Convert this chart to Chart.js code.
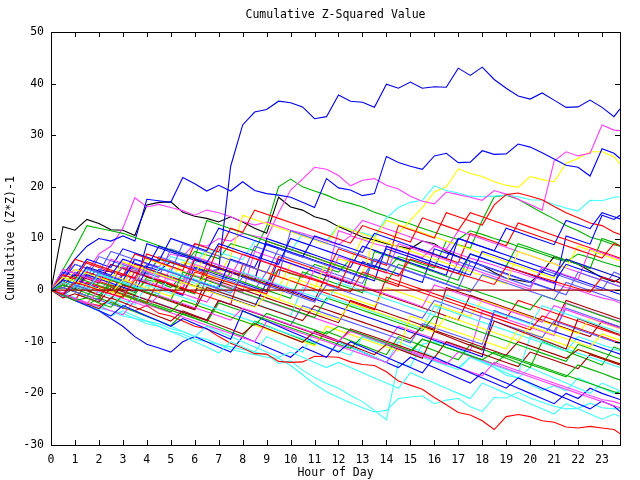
<!DOCTYPE html>
<html>
<head>
<meta charset="utf-8">
<title>Cumulative Z-Squared Value</title>
<script src="https://cdn.jsdelivr.net/npm/chart.js@4.4.1/dist/chart.umd.min.js"></script>
<style>
  html, body { margin: 0; padding: 0; background: #fff; }
  canvas { display: block; }
</style>
</head>
<body>
<canvas id="myChart" width="640" height="480"></canvas>
<script>
// hour of day (x), one reading every half hour
let hours = [0,0.5,1,1.5,2,2.5,3,3.5,4,4.5,5,5.5,6,6.5,7,7.5,8,8.5,9,9.5,10,10.5,11,11.5,12,12.5,13,13.5,14,14.5,15,15.5,16,16.5,17,17.5,18,18.5,19,19.5,20,20.5,21,21.5,22,22.5,23,23.5,23.75];
let yTicks = [-30,-20,-10,0,10,20,30,40,50];
let titleText = 'Cumulative Z-Squared Value';

// the lines that stand out
let topBlue = [0,1.5,3,2.5,4,3.5,2.8,5,4.5,3.8, 5.5,4.8,4.2,3.6,4,24,32,34.5,35,36.6, 36.3,35.5,33.2,33.6,37.8,36.6,36.4,35.4,39.9,39.1, 40.3,39.1,39.4,39.3,43.0,41.6,43.2,40.8,39.1,37.6, 37.0,38.2,36.8,35.4,35.5,36.8,35.4,33.6,35.1];
let secondBlue = [0,3,6,8.5,10,9.5,10.5,9.5,17.6,17.3, 17,21.8,20.6,19.2,20.3,19.2,21,19.3,18.7,18.4, 18,17,16,21.6,19.8,19.4,18.3,18.7,25.9,24.7, 24.0,23.4,26,26.5,24.7,24.8,27.0,26.3,26.4,28.3, 27.7,26.6,25.4,24.2,23.8,22.1,27.4,26.5,25.5];
let peakMagenta = [0,-0.5,1,0.5,2,1.5,3,2.5,5,4.5, 7,6.5,9,8.5,10,9.5,11,10.5,10,15, 19.4,21.5,23.8,23.4,22.2,20.2,21.3,21.6,20.3,19.6, 18.2,17.2,16.7,19,18.5,18,17.4,19.3,18.6,17.6, 16.6,15.5,25,26.8,26.0,26.5,32.0,31.0,30.9];
let earlyMagenta = [0,2.5,4,3.5,7,8.5,12,17.9,16.1,16.6, 16.0,15.4,14.5,15.5,15.0,14.2,13.3,12.6,13.2,12.4, 11.6,11,10.3,9.5,8.8,10.5,9.8,9,8.4,7.6, 7,6.3,8.5,7.8,7,6.2,5.5,4.8,4,3.4, 2.6,2,1.3,0.5,0,-0.8,-1.5,-2,-2.5];
let blackLine = [0,12.3,11.6,13.7,12.9,11.7,11.6,10.6,16.5,17, 17.1,15.1,14.3,13.9,13.2,14.2,13.2,12,11,18, 16.1,15.5,14.2,13.6,12.3,11.3,10.3,9.7,9,8.5, 8,9.5,9,7.5,6.5,5.6,4.7,3.4,2.3,1.9, 1.5,3.5,6.5,5.8,5,3.7,2.4,1.6,2.3];
let lowRed = [0,-1,-2,-2.5,-3,-2,-3.5,-4,-3,-4.5, -5,-6,-7,-7.5,-9,-10.3,-11.2,-12.3,-12.4,-13.8, -14,-13.9,-12.8,-12.9,-13,-13.9,-14.4,-14.6,-15.8,-17.6, -18.4,-19.2,-20.8,-22.2,-23.7,-24.2,-25.3,-27,-24.5,-24.1, -24.5,-25.3,-25.6,-26.5,-26.7,-26.4,-26.7,-27,-27.8];
let dipCyan = [0,-0.5,-1.5,-2.5,-3,-4,-4.5,-5.5,-6,-6.5, -7.5,-8,-9,-9.5,-10.5,-11,-11.5,-12,-12.5,-14.2, -13.7,-15.5,-16.9,-18.1,-19,-20.4,-21.6,-23.3,-25.1,-14, -14.8,-10.5,-10,-10.6,-11.4,-12.6,-13.6,-15,-16.5,-17, -18.2,-19.4,-18.5,-19.5,-17,-18,-19,-20,-19.5];
let lowCyan = [0,-1,-1.5,-2.5,-3.5,-4,-5,-5.5,-6.5,-7, -8,-8.5,-9.5,-10,-10.5,-11.5,-12,-12.5,-13,-13.2, -14.6,-16.4,-18.2,-19.7,-20.8,-21.8,-22.8,-23.6,-23.3,-21, -20.7,-20.5,-22,-21.3,-21,-22.6,-23.5,-20.8,-20.9,-19.8, -20.9,-21.7,-22.5,-23,-22.9,-21.9,-22.8,-23,-22.9];
let highCyan = [0,2,1.3,3.5,2.8,2.1,5,4.3,3.6,2.9, 6.5,5.8,5.1,8,7.3,6.6,5.9,9.5,8.8,8.1, 7.4,11,10.3,9.6,12.5,11.8,11.1,10.4,14,16, 17,17.4,20.2,19.3,18.8,18.2,18.1,18.2,18.4,18.1, 17.5,17.4,16.6,15.9,15.3,17.4,17.3,18,18.1];
let highYellow = [0,1.5,0.8,0.1,2.5,1.8,1.1,0.4,-0.3,3, 2.3,1.6,0.9,0.2,4,3.3,2.6,1.9,1.2,0.5, 5,4.3,3.6,2.9,6,5.5,10,9.5,9,11, 13.5,16,19,20,23.5,22.6,22,21,20.3,19.9, 22,21.4,21,24.6,25.5,26.8,26.8,25.8,24.5];
let highGreen = [0,1.5,0.8,3,2.3,1.6,4.5,3.8,3.1,6, 5.3,4.6,7.5,6.8,6.1,9,8.3,7.6,12.3,20, 21.5,20,19.2,18.4,17.4,16.8,16.1,15.1,14.3,13.5, 12.8,12,11.2,10.5,9.8,11.5,10.8,10,9.3,8.5, 7.8,7,6.2,5.5,7,6.3,5.5,4.8,4.5];
let lateGreen = [0,-1,0.5,0,-1,1,0.5,-0.5,2,1.5, 0.5,3,2,1.2,0.5,3.5,3,2.2,1.5,4, 3.2,2.5,5,4.2,3.5,6,5.2,4.5,3.8,6.5, 5.8,5,4.3,9.5,8.8,8.1,13.5,18.1,18.4,17.6, 16.3,15,13.8,12.5,11.5,10.3,9.6,8.8,8.5];

// the crowd of other days
let walk01 = [0,-0.8,1.5,0.8,0,-0.7,-1.4,2,1.3,0.6, -0.1,-0.8,3.5,2.8,2.1,1.4,0.7,0,-0.7,4, 3.3,2.6,1.9,1.2,0.5,5.5,4.8,4.1,3.4,2.7, 6,5.3,4.6,3.9,3.2,2.5,1.8,1.1,4.5,3.8, 3.1,2.4,1.7,1,0.3,-0.4,2.5,1.8,1.5];
let walk02 = [0,-1,-2,-1.5,-2.5,-3.3,-1,-1.8,-2.6,-3.4, -4.2,-2,-2.8,-3.6,-4.4,-5.2,-6,-6.8,-4.5,-5.3, -6.1,-6.9,-7.7,-8.5,-7,-7.8,-8.6,-9.4,-10.2,-11, -11.8,-9.5,-10.3,-11.1,-11.9,-12.7,-13.5,-12,-12.8,-13.6, -14.4,-15.2,-16,-16.8,-14.5,-15.3,-16.1,-17,-17.4];
let walk03 = [0,2,1.2,4.5,3.7,2.9,6,5.2,4.4,8.5, 7.7,6.9,6.1,5.3,9,8.2,7.4,6.6,5.8,5, 10,9.2,8.4,7.6,6.8,6,5.2,4.4,8,7.2, 6.4,5.6,4.8,4,3.2,7,6.2,5.4,4.6,3.8, 3,2.2,1.4,5,4.2,3.4,2.6,1.8,1.4];
let walk04 = [0,-1,-1.8,-2.6,0,-0.8,-1.6,-2.4,-3.2,-1, -1.8,-2.6,-3.4,-4.2,-5,-5.8,-3.5,-4.3,-5.1,-5.9, -6.7,-7.5,-8.3,-9.1,-9.9,-8,-8.8,-9.6,-10.4,-11.2, -12,-12.8,-13.6,-14.4,-12,-12.8,-13.6,-14.4,-15.2,-16, -16.8,-17.6,-18.4,-19.2,-20,-20.8,-21.6,-22.4,-22.8];
let walk05 = [0,1.5,0.7,-0.1,3,2.2,1.4,0.6,-0.2,4.5, 3.7,2.9,2.1,1.3,0.5,-0.3,3.5,2.7,1.9,1.1, 0.3,-0.5,-1.3,-2.1,1.5,0.7,-0.1,-0.9,-1.7,-2.5, -3.3,-4.1,-4.9,-1,-1.8,-2.6,-3.4,-4.2,-5,-5.8, -6.6,-3,-3.8,-4.6,-5.4,-6.2,-7,-7.8,-8.2];
let walk06 = [0,-0.9,-1.8,-2.7,-3.6,-1.5,-2.4,-3.3,-4.2,-5.1, -6,-4,-4.9,-5.8,-6.7,-7.6,-8.5,-6.5,-7.4,-8.3, -9.2,-10.1,-8,-8.9,-9.8,-10.7,-11.6,-12.5,-10.5,-11.4, -12.3,-13.2,-8,-8.9,-9.8,-10.7,-11.6,-6,-6.9,-7.8, -8.7,-9.6,-10.5,-11.4,-5.5,-6.4,-7.3,-8.2,-8.6];
let walk07 = [0,2.5,1.7,0.9,0.1,-0.7,2,1.2,0.4,-0.4, -1.2,1.5,0.7,-0.1,-0.9,-1.7,-2.5,-3.3,-1,-1.8, -2.6,-3.4,-4.2,-5,-5.8,-2.5,-3.3,-4.1,-4.9,-5.7, -6.5,-7.3,-8.1,-5,-5.8,-6.6,-7.4,-8.2,-9,-9.8, -7,-7.8,-8.6,-9.4,-10.2,-11,-8.5,-9.3,-9.7];
let walk08 = [0,-1.2,1,0.2,3.5,2.7,1.9,1.1,5,4.2, 3.4,2.6,1.8,1,0.2,-0.6,2.5,1.7,0.9,0.1, -0.7,-1.5,-2.3,1,0.2,-0.6,-1.4,-2.2,-3,-3.8, -4.6,-5.4,-2,-2.8,-3.6,-4.4,-5.2,-6,-6.8,-7.6, -8.4,-9.2,-6,-6.8,-7.6,-8.4,-9.2,-10,-10.4];
let walk09 = [0,3,2.2,5.5,4.7,3.9,3.1,2.3,7,6.2, 5.4,4.6,3.8,3,8.5,7.7,6.9,6.1,5.3,4.5, 3.7,2.9,2.1,1.3,0.5,-0.3,3.5,2.7,1.9,1.1, 0.3,-0.5,-1.3,-2.1,-2.9,-3.7,-4.5,-5.3,-6.1,-6.9, -7.7,-5,-5.8,-6.6,-7.4,-8.2,-9,-9.8,-10.2];
let walk10 = [0,1,0.2,-0.6,-1.4,2,1.2,0.4,-0.4,-1.2, -2,3.5,2.7,1.9,1.1,0.3,-0.5,-1.3,-2.1,-2.9, -3.7,-4.5,-5.3,-1.5,-2.3,-3.1,-3.9,-4.7,-5.5,-6.3, -7.1,-7.9,-5,-5.8,-6.6,-7.4,-8.2,-9,-9.8,-10.6, -11.4,-12.2,-13,-13.8,-10.5,-11.3,-12.1,-12.9,-13.3];
let walk11 = [0,-1,-2,-3,-4,-5,-3,-4,-5,-6, -7,-5.5,-6.5,-7.5,-8.5,-9.5,-4,-5,-6,-7, -8,-9,-10,-11,-12,-10,-11,-12,-13,-14, -15,-16,-13,-14,-15,-16,-17,-18,-19,-17, -18,-19,-20,-21,-22,-23,-21.5,-22.5,-23.5];
let walk12 = [0,4,3.2,2.4,1.6,6,5.2,4.4,3.6,2.8, 2,1.2,6.5,5.7,4.9,4.1,3.3,2.5,1.7,0.9, 0.1,-0.7,4,3.2,2.4,1.6,0.8,0,-0.8,-1.6, -2.4,-3.2,1,0.2,-0.6,-1.4,-2.2,-3,-3.8,-4.6, -5.4,-6.2,-3,-3.8,-4.6,-5.4,-6.2,-7,-7.4];
let walk13 = [0,-1,-2,-3,-3.8,-2,-3,-4,-5,-6, -7,-8,-9,-7,-8,-9,-10,-11,-12,-13, -12,-13,-14,-15,-14,-15,-16,-17,-18,-19, -16,-17,-18,-19,-20,-21,-18,-19,-20,-21, -22,-23,-24,-22,-23,-24,-25,-24,-24.5];
let walk14 = [0,1.5,0.7,-0.1,-0.9,-1.7,1,0.2,-0.6,-1.4, -2.2,-3,-3.8,0.5,-0.3,-1.1,-1.9,-2.7,-3.5,-4.3, -5.1,-5.9,-3,-3.8,-4.6,-5.4,-6.2,-7,-7.8,-8.6, -9.4,-7,-7.8,-8.6,-9.4,-10.2,-11,-11.8,-12.6,-10, -10.8,-11.6,-12.4,-13.2,-11.5,-12.3,-13.1,-13.9,-14.3];
let walk15 = [0,1,4,3.2,2.4,1.6,5.5,4.7,3.9,3.1, 2.3,1.5,0.7,3,2.2,1.4,0.6,-0.2,-1,-1.8, 2.5,1.7,0.9,0.1,-0.7,-1.5,-2.3,-3.1,0.5,-0.3, -1.1,-1.9,-2.7,-3.5,-4.3,-5.1,-2,-2.8,-3.6,-4.4, -5.2,-6,-6.8,-7.6,-8.4,-5.5,-6.3,-7.1,-7.5];
let walk16 = [0,2.5,5,4.2,3.4,7.5,6.7,5.9,5.1,4.3, 3.5,9,8.2,7.4,6.6,5.8,5,4.2,3.4,8, 7.2,6.4,5.6,4.8,4,3.2,2.4,6,5.2,4.4, 3.6,2.8,2,1.2,0.4,-0.4,3,2.2,1.4,0.6, -0.2,-1,-1.8,1.5,0.7,-0.1,-0.9,-1.7,-2.1];
let walk17 = [0,3.5,2.7,6,5.2,4.4,8,7.2,6.4,5.6, 10,9.2,8.4,7.6,12,11.2,10.4,9.6,8.8,8, 7.2,6.4,10.5,9.7,8.9,8.1,7.3,11,10.2,9.4, 8.6,7.8,7,6.2,10,9.2,8.4,7.6,12,11.2, 10.4,9.6,8.8,13.5,12.7,11.9,15,14.2,13.8];
let walk18 = [0,2,6,5.2,4.4,3.6,2.8,7,6.2,5.4, 4.6,3.8,9,8.2,7.4,12,11.2,15.5,14.7,13.9, 13.1,12.3,11.5,10.7,9.9,9.1,12.5,11.7,10.9,10.1, 9.3,14,13.2,12.4,11.6,15,14.2,13.4,12.6,11.8, 11,10.2,9.4,8.6,7.8,7,6.2,9,8.6];
let walk19 = [0,4,8,12.5,12,11.5,11,10.2,9.4,8.6, 7.8,7,6.2,13.5,12.7,11.9,11.1,10.3,9.5,8.7, 7.9,7.1,6.3,5.5,4.7,3.9,3.1,2.3,1.5,5, 4.2,3.4,2.6,1.8,1,0.2,-0.6,-1.4,-2.2,-3, -3.8,-1,-1.8,-2.6,-3.4,-4.2,-5,-5.8,-6.2];
let walk20 = [0,-0.8,-1.6,-2.4,-3.2,-4,-4.8,-2,-2.8,-3.6, -4.4,-5.2,-6,-6.8,-7.6,-8.4,-9.2,-10,-6,-6.8, -7.6,-8.4,-9.2,-10,-10.8,-11.6,-12.4,-13.2,-14,-11, -11.8,-12.6,-13.4,-14.2,-15,-15.8,-16.6,-14,-14.8,-15.6, -16.4,-17.2,-18,-18.8,-19.6,-20.4,-21.2,-21.6,-22];
let walk21 = [0,2,1.2,0.4,-0.4,-1.2,-2,-2.8,1,0.2, -0.6,-1.4,-2.2,-3,-3.8,-4.6,-5.4,-6.2,-7,-7.8, -8.6,-9.4,-10.2,-11,-11.8,-12.6,-9,-9.8,-10.6,-11.4, -12.2,-13,-13.8,-14.6,-15.4,-13,-13.8,-14.6,-15.4,-16.2, -9,-9.8,-10.6,-11.4,-12.2,-13,-13.8,-14.6,-15];
let walk22 = [0,-1.5,-0.7,-1.5,-2.3,0.5,-0.3,-1.1,-1.9,-2.7, -3.5,-4.3,-5.1,-5.9,-2,-2.8,-3.6,-4.4,-5.2,-6, -6.8,-7.6,-8.4,-9.2,-10,-7.5,-8.3,-9.1,-9.9,-10.7, -11.5,-12.3,-13.1,-10,-10.8,-11.6,-12.4,-13.2,-14,-14.8, -12,-12.8,-13.6,-14.4,-15.2,-12.5,-13.3,-14.1,-14.5];
let walk23 = [0,-1,-2,-3,0.5,-0.3,-1.1,-1.9,-2.7,-3.5, -4.3,-2,-2.8,-3.6,-4.4,-5.2,-6,-6.8,-7.6,-8.4, -9.2,-10,-10.8,-7,-7.8,-8.6,-9.4,-10.2,-11,-11.8, -5,-5.8,-6.6,-7.4,-8.2,-9,-9.8,-10.6,-11.4,-7.5, -8.3,-9.1,-9.9,-10.7,-11.5,-12.3,-13.1,-13.9,-14.3];
let walk24 = [0,0.5,-0.3,-1.1,-1.9,-2.7,-3.5,-1,-1.8,-2.6, -3.4,-4.2,-5,-5.8,-2,-2.8,-3.6,-4.4,-5.2,-6, -6.8,-3,-3.8,-4.6,-5.4,-6.2,-7,-7.8,-8.6,-9.4, -10.2,-6.5,-7.3,-8.1,-8.9,-9.7,-10.5,-4,-4.8,-5.6, -6.4,-7.2,-8,-3.5,-4.3,-5.1,-5.9,-6.7,-7.1];
let walk25 = [0,1,0.2,3,2.2,1.4,0.6,-0.2,4,3.2, 2.4,1.6,0.8,0,-0.8,-1.6,-2.4,-3.2,1.5,0.7, -0.1,-0.9,-1.7,-2.5,-3.3,-4.1,-4.9,-5.7,-6.5,-7.3, -8.1,-8.9,-9.7,-10.5,-11.3,-12.1,-12.9,-4,-4.8,-5.6, -6.4,-7.2,-8,-8.8,-9.6,-10.4,-11.2,-12,-12.4];
let walk26 = [0,-1,-2,1.5,0.7,-0.1,-0.9,-1.7,-2.5,2, 1.2,0.4,-0.4,-1.2,-2,-2.8,5,4.2,3.4,2.6, 1.8,1,0.2,-0.6,-1.4,-2.2,-3,-3.8,2.5,1.7, 0.9,0.1,-0.7,-1.5,-2.3,-3.1,-3.9,-4.7,-5.5,-2, -2.8,-3.6,-4.4,-5.2,-6,-6.8,-7.6,-8.4,-8.8];
let walk27 = [0,0.5,2.5,1.7,0.9,0.1,-0.7,-1.5,-2.3,-3.1, -3.9,-4.7,-5.5,-6.3,-2.5,-3.3,-4.1,-4.9,-5.7,-6.5, -7.3,-8.1,-8.9,-9.7,-10.5,-11.3,-9,-9.8,-10.6,-11.4, -12.2,-9.5,-10.3,-11.1,-11.9,-12.7,-13.5,-14.3,-12.5,-13.3, -14.1,-14.9,-15.7,-16.5,-17.3,-18.1,-18.9,-19.7,-20];
let walk28 = [0,2,5,4.2,3.4,2.6,1.8,6,5.2,4.4, 3.6,2.8,2,1.2,0.4,6,5.2,4.4,9,8.2, 7.4,6.6,5.8,5,4.2,3.4,2.6,1.8,8.5,7.7, 6.9,6.1,5.3,4.5,3.7,2.9,7.5,6.7,5.9,5.1, 4.3,3.5,2.7,6,5.2,4.4,3.6,2.8,2.4];
let walk29 = [0,1,0.2,3,2.2,1.4,4.5,3.7,2.9,2.1, 1.3,0.5,5,4.2,3.4,2.6,7,6.2,5.4,4.6, 3.8,3,2.2,1.4,6.5,5.7,4.9,4.1,3.3,9, 8.2,7.4,6.6,5.8,5,4.2,3.4,2.6,1.8,1, 0.2,4.5,3.7,2.9,2.1,8,7.2,6.4,6];
let walk30 = [0,2.5,1.7,4,3.2,2.4,1.6,0.8,0,-0.8, 3,2.2,1.4,0.6,-0.2,-1,-1.8,-2.6,-3.4,-4.2, -5,0.5,-0.3,-1.1,-1.9,-2.7,-3.5,-4.3,-5.1,-5.9, -6.7,-7.5,-3,-3.8,-4.6,-5.4,-6.2,-7,-7.8,-8.6, -9.4,-10.2,-11,-11.8,-9,-9.8,-10.6,-11.4,-11.8];
let walk31 = [0,1,3,2.2,1.4,5,4.2,3.4,2.6,1.8, 1,0.2,6,5.2,4.4,3.6,2.8,2,1.2,0.4, -0.4,-1.2,-2,3,2.2,1.4,0.6,-0.2,-1,-1.8, -2.6,-3.4,-4.2,-5,-5.8,-1,-1.8,-2.6,-3.4,-4.2, -5,-5.8,-6.6,-7.4,-8.2,-9,-6,-6.8,-7.2];
let walk32 = [0,1.5,0.7,4.5,3.7,2.9,2.1,1.3,6,5.2, 4.4,3.6,2.8,7.5,6.7,5.9,5.1,4.3,3.5,2.7, 1.9,1.1,0.3,5.5,4.7,3.9,3.1,10,9.2,8.4, 7.6,6.8,6,5.2,4.4,3.6,2.8,2,1.2,7.5, 6.7,5.9,5.1,4.3,8.5,7.7,6.9,6.1,5.7];
let walk33 = [0,4,3.2,2.4,6.5,5.7,4.9,4.1,3.3,2.5, 8,7.2,6.4,5.6,4.8,4,3.2,8.5,7.7,6.9, 6.1,5.3,4.5,3.7,2.9,2.1,1.3,6,5.2,4.4, 3.6,2.8,2,1.2,5.5,4.7,3.9,3.1,2.3,1.5, 0.7,4,3.2,2.4,1.6,0.8,0,3.5,3];
let walk34 = [0,1.5,0.7,-0.1,3,2.2,1.4,0.6,9,8.2, 7.4,6.6,5.8,5,4.2,3.4,2.6,1.8,10,9.2, 8.4,7.6,6.8,6,5.2,4.4,8.5,7.7,6.9,6.1, 5.3,4.5,3.7,2.9,10,9.2,8.4,7.6,6.8,6, 5.2,4.4,3.6,2.8,2,1.2,0.4,-0.4,-0.8];
let walk35 = [0,1,0.2,2.5,1.7,0.9,0.1,3.5,2.7,1.9, 1.1,0.3,-0.5,5,4.2,3.4,2.6,1.8,1,6.5, 5.7,4.9,4.1,3.3,8,7.2,6.4,5.6,4.8,12.5, 11.7,10.9,10.1,15,14.2,13.4,12.6,16.5,18.5,18.8, 18.2,17.5,16.2,15,14,13,12.5,11.2,10.8];
let walk36 = [0,-1,-2,-2.9,-1.5,-2.4,-3.3,-4.2,-5.1,-6, -6.9,-4.5,-5.4,-6.3,-7.2,-8.1,-9,-6,-6.9,-7.8, -8.7,-9.6,-10.5,-8,-8.9,-9.8,-10.7,-11.6,-12.5,-9, -9.9,-10.8,-11.7,-12.6,-13.5,-10.5,-11.4,-12.3,-13.2,-14.1, -15,-10,-10.9,-11.8,-12.7,-13.6,-14.5,-11,-11.5];
let walk37 = [0,3,2.2,1.4,0.6,-0.2,-1,2.5,1.7,0.9, 0.1,-0.7,-1.5,-2.3,1,0.2,-0.6,-1.4,-2.2,-3, -3.8,-4.6,-5.4,-6.2,-7,-7.8,-8.6,-9.4,-10.2,-7, -7.8,-8.6,-9.4,-10.2,-11,-11.8,-4,-4.8,-5.6,-6.4, -7.2,-8,-8.8,-2.5,-3.3,-4.1,-4.9,-5.7,-6.1];
let walk38 = [0,-1,-2,-3,-4,-5,-4,-5,-6,-7, -8,-9,-10,-11,-12.2,-10,-11,-12,-9,-10, -11,-12,-8,-9,-10,-11,-12,-13,-14,-10, -11,-12,-13,-14,-15,-13,-14,-15,-16,-17, -15,-16,-17,-18,-19,-20,-18,-19,-19.5];
let walk39 = [0,-1,-2,-3,-4,-5.5,-7,-9,-10.5,-11.2, -12,-10,-9,-10,-11,-12,-9,-10,-11,-12, -13,-11,-12,-13,-10,-11,-12,-13,-14,-15, -13,-14,-15,-16,-17,-18,-16,-17,-18,-19, -20,-21,-22,-20,-21,-19,-20,-20.8,-21.2];
let walk40 = [0,0.5,-0.3,-1.1,1.5,0.7,-0.1,-0.9,2.5,1.7, 0.9,0.1,-0.7,4,3.2,2.4,1.6,0.8,0,-0.8, -1.6,3.5,2.7,1.9,1.1,0.3,-0.5,7.5,6.7,5.9, 5.1,4.3,3.5,2.7,1.9,7,6.2,5.4,4.6,9, 8.2,7.4,6.6,5.8,5,4.2,10,9.2,8.6];
let walk41 = [0,1,3.5,2.7,1.9,5,4.2,3.4,2.6,6.5, 5.7,4.9,4.1,3.3,2.5,1.7,0.9,0.1,3.5,2.7, 11.5,10.7,9.9,9.1,8.3,7.5,6.7,5.9,5.1,4.3, 3.5,2.7,1.9,1.1,0.3,5.5,4.7,3.9,3.1,2.3, 1.5,0.7,-0.1,-0.9,3.5,2.7,1.9,1.1,0.7];
let walk42 = [0,2,1.2,0.4,3,2.2,1.4,4.5,3.7,2.9, 2.1,5.5,4.7,3.9,3.1,6.5,14.5,13.7,12.9,12.1, 11.3,10.5,9.7,8.9,12.5,11.7,10.9,10.1,13.5,12.7, 11.9,11.1,10.3,9.5,8.7,7.9,7.1,6.3,5.5,4.7, 3.9,3.1,2.3,6,5.2,4.4,3.6,2.8,2.4];
let walk43 = [0,0.5,-0.3,-1.1,-1.9,2,1.2,0.4,-0.4,-1.2, -2,-2.8,-3.6,2.5,1.7,0.9,0.1,-0.7,-1.5,-2.3, -3.1,-3.9,-4.7,-5.5,-6.3,-2,-2.8,-3.6,-4.4,-5.2, -6,-6.8,-7.6,0.5,-0.3,-1.1,-1.9,-2.7,-3.5,-4.3, -5.1,-5.9,-6.7,-2,-2.8,-3.6,-4.4,-5.2,-5.6];
let walk44 = [0,1.5,0.7,3.5,2.7,1.9,1.1,5,4.2,3.4, 2.6,1.8,6,5.2,4.4,3.6,2.8,2,9.5,8.7, 7.9,7.1,6.3,5.5,4.7,3.9,3.1,2.3,1.5,0.7, 8.5,7.7,6.9,6.1,5.3,11,10.2,9.4,8.6,13, 12.2,11.4,10.6,9.8,9,8.2,7.4,6.6,6.2];
let walk45 = [0,-1,2,1.2,0.4,-0.4,3,2.2,1.4,0.6, -0.2,-1,4.5,3.7,2.9,2.1,1.3,0.5,-0.3,6, 5.2,4.4,3.6,2.8,2,1.2,5.5,4.7,3.9,3.1, 2.3,1.5,8,7.2,6.4,5.6,4.8,4,3.2,2.4, 1.6,0.8,0,10.5,9.7,8.9,14.5,13.7,14.5];
let walk46 = [0,2,1.2,0.4,-0.4,2.5,1.7,0.9,0.1,-0.7, 4.5,3.7,2.9,2.1,1.3,0.5,-0.3,7.5,6.7,5.9, 5.1,4.3,3.5,2.7,11.5,10.7,13.5,12.7,11.9,11.1, 10.3,9.5,8.7,7.9,11.5,10.7,9.9,9.1,8.3,7.5, 6.7,5.9,5.1,4.3,3.5,2.7,1.9,1.1,0.7];

let series = [walk01, walk02, walk03, walk04, walk05, walk06, walk07, walk08, walk09, walk10,
    walk11, walk12, walk13, walk14, walk15, walk16, walk17, walk18, walk19, walk20,
    walk21, walk22, walk23, walk24, walk25, walk26, walk27, walk28, walk29, walk30,
    walk31, walk32, walk33, walk34, walk35, walk36, walk37, walk38, walk39, walk40,
    walk41, walk42, walk43, walk44, walk45, walk46,
    topBlue, secondBlue, peakMagenta, earlyMagenta, blackLine, lowRed,
    dipCyan, lowCyan, highCyan, highYellow, highGreen, lateGreen];

let red = '#ff0000', green = '#00b000', blue = '#0000ff', magenta = '#ff40ff', cyan = '#40ffff',
    darkRed = '#a00000', yellow = '#ffff00', slate = '#5a5aff', black = '#000000';
let seriesColours = [red, green, blue, magenta, cyan, darkRed, yellow, slate, red, green,
    blue, magenta, cyan, darkRed, yellow, slate, blue, red, green, magenta,
    cyan, darkRed, yellow, slate, blue, red, green, blue, magenta, cyan,
    darkRed, yellow, slate, blue, red, green, magenta, cyan, blue, green,
    slate, yellow, darkRed, red, blue, magenta,
    '#0000e0', blue, magenta, magenta, black, red,
    cyan, cyan, cyan, yellow, green, green];

let monoFont = { family: "'DejaVu Sans Mono', 'Liberation Mono', monospace", size: 11.5, weight: 'normal' };

let datasets = [];
for (let i = 0; i < series.length; i++) {
    let pts = [];
    for (let j = 0; j < hours.length; j++) {
        pts.push({ x: hours[j], y: series[i][j] });
    }
    datasets.push({
        data: pts,
        borderColor: seriesColours[i],
        borderWidth: 1.1,
        pointRadius: 0,
        tension: 0,
        fill: false
    });
}
// zero line, drawn over the others
datasets.push({
    data: [{ x: hours[0], y: 0 }, { x: hours[hours.length - 1], y: 0 }],
    borderColor: darkRed,
    borderWidth: 1.1,
    pointRadius: 0,
    fill: false,
    order: -1
});

// gnuplot style box with the ticks pointing inwards on all four sides, title over the plot
let frameTicks = {
    id: 'frameTicks',
    afterDraw(chart) {
        let ctx = chart.ctx;
        let a = chart.chartArea;
        let xs = chart.scales.x, ys = chart.scales.y;
        let len = 5;
        ctx.save();
        ctx.strokeStyle = '#000';
        ctx.lineWidth = 1;
        ctx.beginPath();
        xs.ticks.forEach(t => {
            let px = Math.round(xs.getPixelForValue(t.value)) + 0.5;
            ctx.moveTo(px, a.bottom); ctx.lineTo(px, a.bottom - len);
            ctx.moveTo(px, a.top); ctx.lineTo(px, a.top + len);
        });
        ys.ticks.forEach(t => {
            let py = Math.round(ys.getPixelForValue(t.value)) + 0.5;
            ctx.moveTo(a.left, py); ctx.lineTo(a.left + len, py);
            ctx.moveTo(a.right, py); ctx.lineTo(a.right - len, py);
        });
        ctx.stroke();
        ctx.strokeRect(Math.round(a.left) + 0.5, Math.round(a.top) + 0.5, Math.round(a.width), Math.round(a.height));

        ctx.fillStyle = '#000';
        ctx.font = monoFont.size + 'px ' + monoFont.family;
        ctx.textAlign = 'center';
        ctx.textBaseline = 'middle';
        ctx.fillText(titleText, (a.left + a.right) / 2, 15);
        ctx.restore();
    }
};

let ctx = document.getElementById('myChart').getContext('2d');
let myChart = new Chart(ctx, {
    type: 'line',
    data: { datasets: datasets },
    plugins: [frameTicks],
    options: {
        responsive: false,
        animation: false,
        events: [],
        layout: { padding: { left: 0, right: 20, top: 32, bottom: 0 } },
        plugins: {
            legend: { display: false },
            tooltip: { enabled: false },
            title: { display: false }
        },
        scales: {
            x: {
                type: 'linear',
                min: hours[0],
                max: hours[hours.length - 1],
                grid: { display: false, drawTicks: false },
                border: { display: false },
                ticks: { stepSize: 1, includeBounds: false, autoSkip: false, maxRotation: 0, padding: 8, color: '#000', font: monoFont },
                title: { display: true, text: 'Hour of Day', color: '#000', font: monoFont, padding: { top: 0, bottom: 0 } },
                afterFit: s => { s.height = 35; }
            },
            y: {
                min: yTicks[0],
                max: yTicks[yTicks.length - 1],
                grid: { display: false, drawTicks: false },
                border: { display: false },
                ticks: { stepSize: 10, padding: 7, color: '#000', font: monoFont },
                title: { display: true, text: 'Cumulative (Z*Z)-1', color: '#000', font: monoFont, padding: { top: 4, bottom: 0 } },
                afterFit: s => { s.width = 51; }
            }
        }
    }
});
</script>
</body>
</html>
